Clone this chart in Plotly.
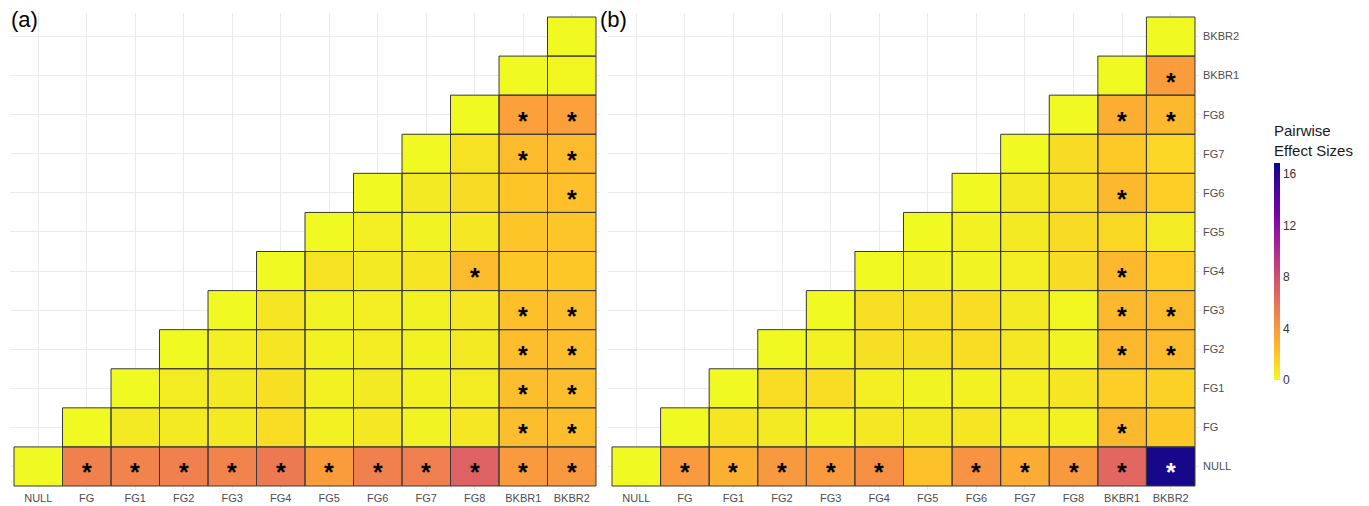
import plotly.graph_objects as go

W, H = 1369, 506

labels = ["NULL", "FG", "FG1", "FG2", "FG3", "FG4", "FG5", "FG6", "FG7", "FG8", "BKBR1", "BKBR2"]

# Upper-triangle effect sizes: row i holds the values for columns i..BKBR2
effect_a = [
    [0, 5.2, 5.1, 5.2, 5.1, 5.6, 3.9, 5.2, 5.3, 6.9, 4.0, 4.1],
    [0, 0.6, 0.6, 0.6, 1.1, 0.3, 0.7, 0.2, 0.7, 2.4, 2.4],
    [0, 0.5, 0.6, 1.0, 0.3, 0.6, 0.3, 0.5, 2.4, 2.4],
    [0, 0.4, 0.8, 0.3, 0.5, 0.3, 0.6, 2.4, 2.4],
    [0, 0.8, 0.2, 0.4, 0.3, 0.7, 2.3, 2.4],
    [0, 0.9, 0.6, 0.8, 2.5, 2.0, 2.0],
    [0, 0.4, 0.2, 0.7, 2.1, 2.1],
    [0, 0.6, 1.2, 2.1, 2.3],
    [0, 0.9, 2.5, 2.5],
    [0, 3.7, 3.7],
    [0, 0.1],
    [0],
]
sig_a = [
    [0, 1, 1, 1, 1, 1, 1, 1, 1, 1, 1, 1],
    [0, 0, 0, 0, 0, 0, 0, 0, 0, 1, 1],
    [0, 0, 0, 0, 0, 0, 0, 0, 1, 1],
    [0, 0, 0, 0, 0, 0, 0, 1, 1],
    [0, 0, 0, 0, 0, 0, 1, 1],
    [0, 0, 0, 0, 1, 0, 0],
    [0, 0, 0, 0, 0, 0],
    [0, 0, 0, 0, 1],
    [0, 0, 1, 1],
    [0, 1, 1],
    [0, 0],
    [0],
]

effect_b = [
    [0, 4.0, 3.0, 4.1, 4.0, 4.5, 2.2, 4.3, 3.2, 4.1, 6.6, 16.5],
    [0, 0.8, 0.6, 0.3, 0.7, 0.6, 0.8, 0.4, 0.3, 2.6, 2.0],
    [0, 1.1, 1.1, 0.4, 0.2, 0.3, 0.4, 0.8, 1.7, 1.6],
    [0, 0.3, 1.0, 1.0, 1.1, 0.7, 0.2, 2.6, 2.5],
    [0, 1.0, 1.0, 1.1, 0.6, 0.1, 2.6, 2.5],
    [0, 0.2, 0.2, 0.4, 1.2, 2.6, 1.8],
    [0, 0.3, 0.6, 1.2, 1.3, 0.5],
    [0, 0.6, 1.2, 2.6, 1.7],
    [0, 1.2, 1.9, 1.4],
    [0, 3.1, 2.6],
    [0, 3.9],
    [0],
]
sig_b = [
    [0, 1, 1, 1, 1, 1, 0, 1, 1, 1, 1, 1],
    [0, 0, 0, 0, 0, 0, 0, 0, 0, 1, 0],
    [0, 0, 0, 0, 0, 0, 0, 0, 0, 0],
    [0, 0, 0, 0, 0, 0, 0, 1, 1],
    [0, 0, 0, 0, 0, 0, 1, 1],
    [0, 0, 0, 0, 0, 1, 0],
    [0, 0, 0, 0, 0, 0],
    [0, 0, 0, 1, 0],
    [0, 0, 0, 0],
    [0, 1, 1],
    [0, 1],
    [0],
]

colorbar_ticks = [0, 4, 8, 12, 16]
z_max = 16.8

n = len(labels)


def to_grid(rows):
    grid = [[None] * n for _ in range(n)]
    for i, row in enumerate(rows):
        for k, v in enumerate(row):
            grid[i][i + k] = v
    return grid


def px_x(p):
    return p / W


def px_y(p):
    return 1 - p / H


fig = go.Figure()

panels = [
    ("x", "y", effect_a, sig_a),
    ("x2", "y2", effect_b, sig_b),
]

shapes = []
annotations = []
for xa, ya, eff, sig in panels:
    fig.add_trace(go.Heatmap(
        x=labels, y=labels, z=to_grid(eff),
        coloraxis="coloraxis", xaxis=xa, yaxis=ya,
        hoverongaps=False,
    ))
    for i, row in enumerate(eff):
        for k, v in enumerate(row):
            j = i + k
            shapes.append(dict(
                type="rect", xref=xa, yref=ya,
                x0=j - 0.5, x1=j + 0.5, y0=i - 0.5, y1=i + 0.5,
                line=dict(color="#3a3a3a", width=1),
                fillcolor="rgba(0,0,0,0)", layer="above",
            ))
            if sig[i][k]:
                annotations.append(dict(
                    x=labels[j], y=labels[i], xref=xa, yref=ya,
                    text="<b>*</b>", showarrow=False, yshift=-6,
                    font=dict(size=25, color="white" if v > 10 else "black",
                              family="Liberation Sans"),
                ))

annotations.append(dict(x=px_x(9), y=px_y(5), xref="paper", yref="paper",
                        xanchor="left", yanchor="top", text="(a)", showarrow=False,
                        font=dict(size=22, color="black")))
annotations.append(dict(x=px_x(598), y=px_y(5), xref="paper", yref="paper",
                        xanchor="left", yanchor="top", text="(b)", showarrow=False,
                        font=dict(size=22, color="black")))

axis_common = dict(
    type="category", categoryorder="array", categoryarray=labels,
    showgrid=True, gridcolor="#ebebeb", gridwidth=1, zeroline=False,
    showline=False, ticks="", tickfont=dict(size=11, color="#4d4d4d"),
)

x_pad = 0.5 + 4 / 48.5
y_pad = 0.5 + 4 / 39.08

fig.update_layout(
    width=W, height=H,
    margin=dict(l=0, r=0, t=0, b=0),
    paper_bgcolor="white", plot_bgcolor="white",
    font=dict(family="Liberation Sans", color="#4d4d4d"),
    xaxis=dict(axis_common, domain=[px_x(10), px_x(600)], range=[-x_pad, n - 1 + x_pad],
               anchor="y"),
    yaxis=dict(axis_common, domain=[px_y(490), px_y(13)], range=[-y_pad, n - 1 + y_pad],
               showticklabels=False, anchor="x"),
    xaxis2=dict(axis_common, domain=[px_x(608), px_x(1199)], range=[-x_pad, n - 1 + x_pad],
                anchor="y2"),
    yaxis2=dict(axis_common, domain=[px_y(490), px_y(13)], range=[-y_pad, n - 1 + y_pad],
                side="right", anchor="x2", ticklabelstandoff=3),
    coloraxis=dict(
        colorscale="Plasma", reversescale=True, cmin=0, cmax=z_max,
        colorbar=dict(
            x=px_x(1274), xanchor="left", xpad=0,
            y=px_y(122), yanchor="top", ypad=0,
            lenmode="pixels", len=258, thickness=6,
            outlinewidth=0, ticks="", tickvals=colorbar_ticks,
            tickfont=dict(size=12, color="#333333"),
            title=dict(text="Pairwise<br>Effect Sizes", side="top",
                       font=dict(size=15, color="#1a1a1a")),
        ),
    ),
    shapes=shapes,
    annotations=annotations,
    showlegend=False,
)

fig.write_html("out.html")
